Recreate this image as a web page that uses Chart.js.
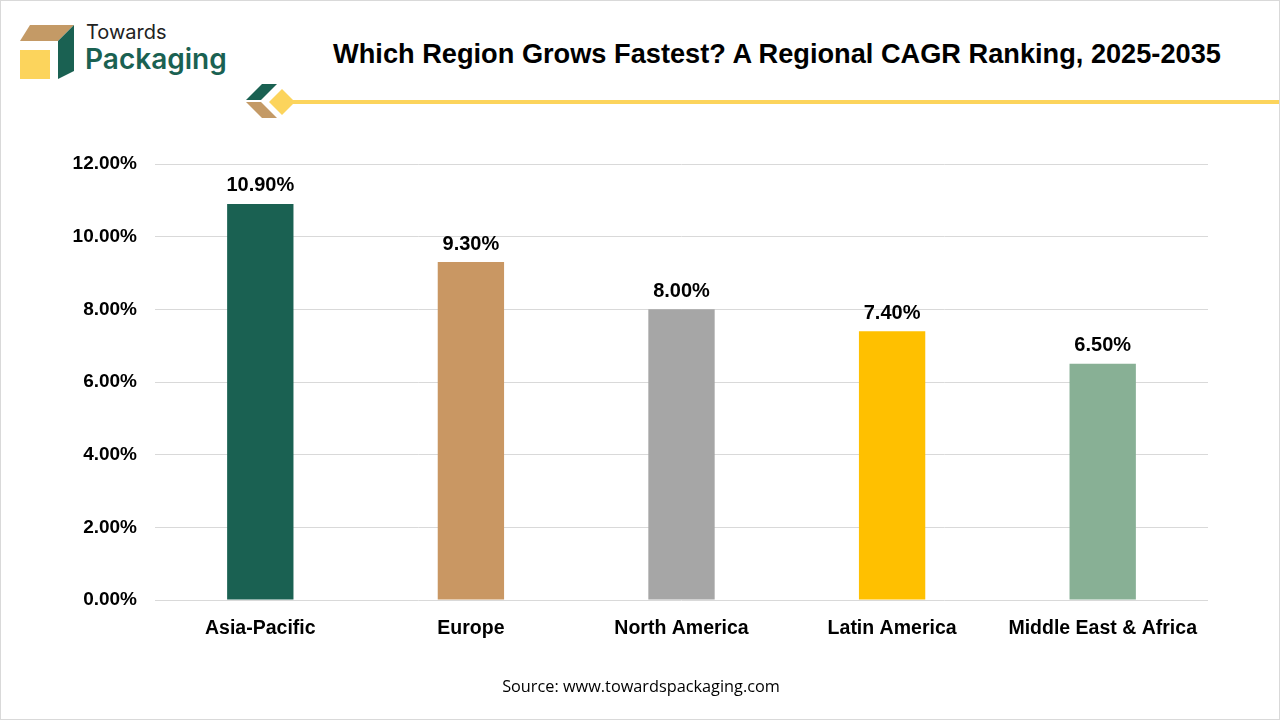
<!DOCTYPE html>
<html>
<head>
<meta charset="utf-8">
<script src="https://cdn.jsdelivr.net/npm/chart.js@4.4.1/dist/chart.umd.min.js"></script>
<style>
  html, body { margin: 0; padding: 0; background: #fff; }
  #page { position: relative; width: 1280px; height: 720px; overflow: hidden; box-sizing: border-box; border: 1px solid #d9d9d9; }
  #cagrChart { position: absolute; left: 0; top: 0; }
  .title { position: absolute; left: 300px; width: 952px; top: 37px; text-align: center; font-family: "Liberation Sans", Arial, sans-serif; font-weight: bold; font-size: 27.2px; color: #000; }
  .source { position: absolute; left: 0; width: 1280px; top: 674px; text-align: center; font-family: "Open Sans", sans-serif; font-size: 16.3px; color: #000; }
  .brand1 { position: absolute; left: 85px; top: 19px; font-family: "Inter", sans-serif; font-size: 20px; line-height: 24px; color: #222; }
  .brand2 { position: absolute; left: 84px; top: 41px; font-family: "Inter", sans-serif; font-weight: 600; font-size: 28px; line-height: 34px; color: #1a6152; }
</style>
</head>
<body>
<div id="page">
  <svg width="1280" height="140" style="position:absolute;left:0;top:0">
    <!-- logo cube -->
    <polygon points="19,49 49,49 49,78 19,78" fill="#fcd45c"/>
    <polygon points="19,40 29,24 73,24 57,40" fill="#c49a66"/>
    <polygon points="57,40 73,24 73,70 57,78" fill="#1a6152"/>
    <!-- divider ornament -->
    <line x1="285" y1="101" x2="1280" y2="101" stroke="#fcd45c" stroke-width="4"/>
    <polygon points="245,99 261,83 276,83 260,99" fill="#1a6152"/>
    <polygon points="245,101 260,101 276,117 261,117" fill="#c49a66"/>
    <polygon points="268,101 281,88 294,101 281,114" fill="#fcd45c"/>
  </svg>
  <div class="brand1">Towards</div>
  <div class="brand2">Packaging</div>
  <div class="title">Which Region Grows Fastest? A Regional CAGR Ranking, 2025-2035</div>
  <canvas id="cagrChart" width="1278" height="718"></canvas>
  <div class="source">Source: www.towardspackaging.com</div>
</div>
<script>
const regions = ['Asia-Pacific', 'Europe', 'North America', 'Latin America', 'Middle East & Africa'];
const cagrValues = [10.9, 9.3, 8.0, 7.4, 6.5];
const barColors = ['#1a6152', '#c99763', '#a6a6a6', '#ffc000', '#88b095'];
const yTicks = [0, 2, 4, 6, 8, 10, 12];

const labelFont = '"Liberation Sans", Arial, sans-serif';

// draw value labels above each bar
const valueLabels = {
  id: 'valueLabels',
  afterDatasetsDraw(chart) {
    const ctx = chart.ctx;
    const meta = chart.getDatasetMeta(0);
    ctx.save();
    ctx.font = 'bold 20px ' + labelFont;
    ctx.fillStyle = '#000';
    ctx.textAlign = 'center';
    ctx.textBaseline = 'bottom';
    meta.data.forEach((bar, i) => {
      ctx.fillText(cagrValues[i].toFixed(2) + '%', bar.x, bar.y - 8);
    });
    ctx.restore();
  }
};

const ctx = document.getElementById('cagrChart').getContext('2d');
new Chart(ctx, {
  type: 'bar',
  data: {
    labels: regions,
    datasets: [{
      data: cagrValues,
      backgroundColor: barColors,
      barPercentage: 0.63,
      categoryPercentage: 0.5
    }]
  },
  options: {
    responsive: false,
    animation: false,
    layout: { padding: { top: 163, right: 71, bottom: 0, left: 0 } },
    plugins: { legend: { display: false }, tooltip: { enabled: false } },
    scales: {
      x: {
        grid: { display: false },
        border: { display: false },
        ticks: { color: '#000', font: { family: labelFont, size: 19.5, weight: 'bold' }, padding: 9, maxRotation: 0 },
        afterFit(scale) { scale.height = 119; }
      },
      y: {
        min: 0,
        max: 12,
        afterBuildTicks(scale) { scale.ticks = yTicks.map(v => ({ value: v })); },
        grid: { color: '#d9d9d9', drawTicks: false },
        border: { display: false },
        ticks: {
          color: '#000',
          font: { family: labelFont, size: 19, weight: 'bold' },
          padding: 18,
          callback: v => v.toFixed(2) + '%'
        },
        afterFit(scale) { scale.width = 154; }
      }
    }
  },
  plugins: [valueLabels]
});
</script>
</body>
</html>
